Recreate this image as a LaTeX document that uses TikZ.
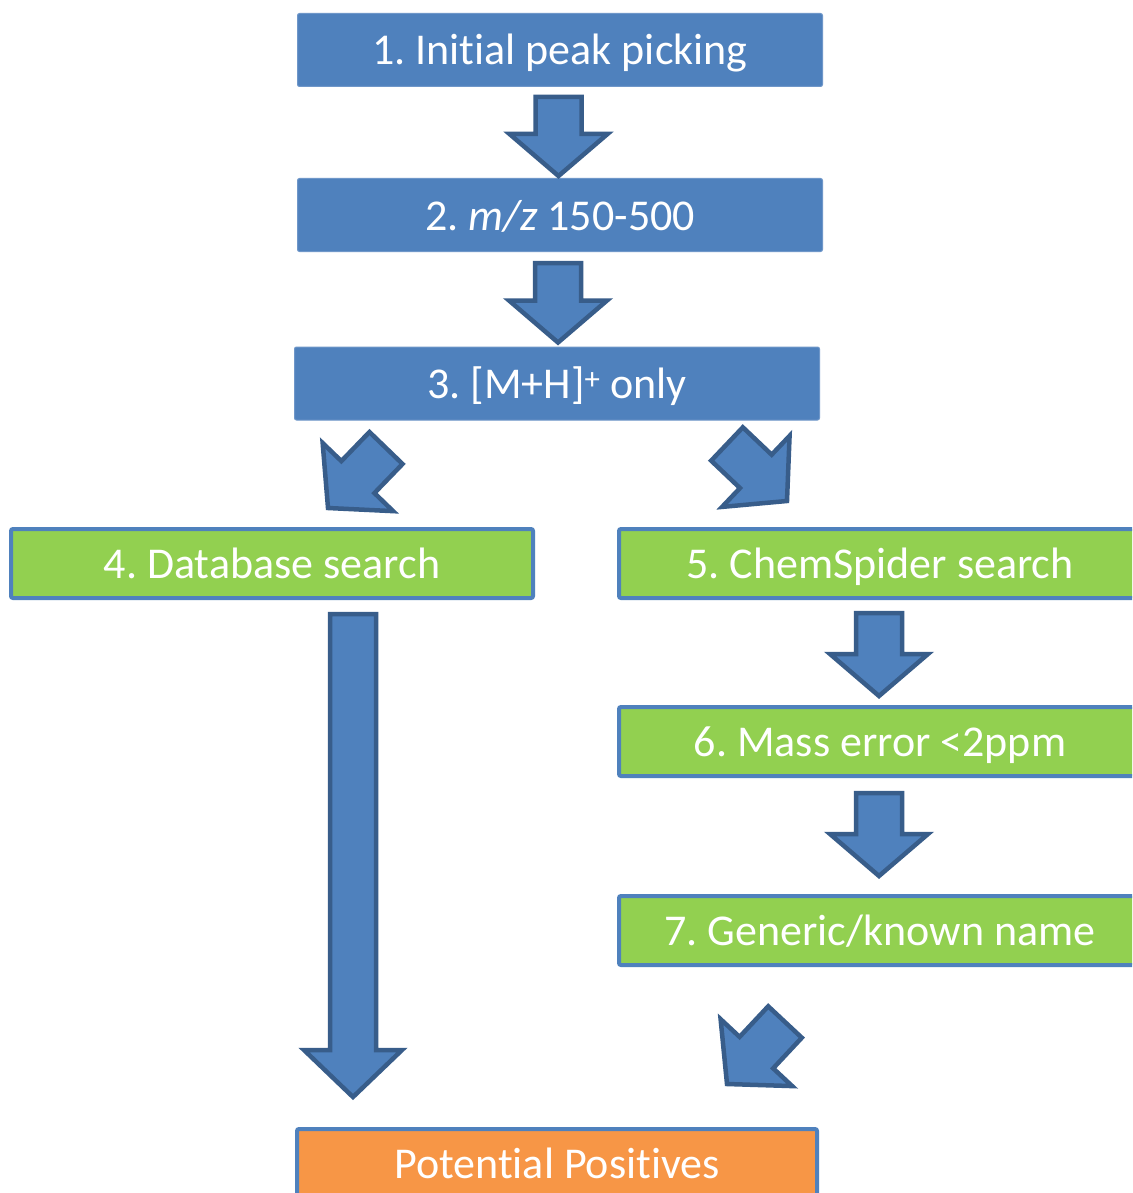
\documentclass[tikz,border=0pt]{standalone}
\usepackage{fontspec}
\setmainfont{Carlito}[Ligatures=NoCommon]
\usetikzlibrary{calc}
\definecolor{boxblue}{HTML}{4F81BD}
\definecolor{arrowedge}{HTML}{385D8A}
\definecolor{boxgreen}{HTML}{92D050}
\definecolor{boxorange}{HTML}{F79646}
\definecolor{edgelight}{HTML}{6F97C9}
% #1 start, #2 tip, #3 head length, #4 id
\newcommand{\blockarr}[4]{%
  \coordinate (#4-h) at ($(#2)!#3!(#1)$);
  \draw[blockarrow] ($(#1)!23pt!90:(#2)$) -- ($(#4-h)!23pt!90:(#2)$)
    -- ($(#4-h)!49pt!90:(#2)$) -- (#2) -- ($(#4-h)!49pt!-90:(#2)$)
    -- ($(#4-h)!23pt!-90:(#2)$) -- ($(#1)!23pt!-90:(#2)$) -- cycle;
}
\newcommand{\nolig}{\kern0pt}
\frenchspacing
\begin{document}
\begin{tikzpicture}[x=1pt,y=-1pt,
  every node/.style={font=\fontsize{44}{50}\selectfont, text=white, inner sep=0pt, text height=31pt, text depth=1pt},
  bluebox/.style={fill=boxblue, draw=edgelight, line width=1pt, rounded corners=2pt, minimum width=525pt, minimum height=73pt},
  greenbox/.style={fill=boxgreen, draw=boxblue, line width=4pt, rounded corners=2pt, minimum width=522pt, minimum height=69pt},
  orangebox/.style={fill=boxorange, draw=boxblue, line width=4pt, rounded corners=2pt, minimum width=520pt, minimum height=69pt},
  blockarrow/.style={fill=boxblue, draw=arrowedge, line width=4.5pt, line join=miter}]
\clip (0,0) rectangle (1132,1193);
\fill[white] (0,0) rectangle (1132,1193);

\node[bluebox] (n1) at (560,50) {1. Init\nolig ial peak picking};
\node[bluebox] (n2) at (560,215) {2. \textit{m/z} 150-500};
\node[bluebox] (n3) at (557,383.5) {3. [M+H]\textsuperscript{+} only};
\node[greenbox] (n4) at (272,563.5) {4. Database search};
\node[greenbox] (n5) at (880,563.5) {5. ChemSpider search};
\node[greenbox] (n6) at (880,741.5) {6. Mass error <2ppm};
\node[greenbox] (n7) at (880,930.5) {7. Generic/known name};
\node[orangebox] (n8) at (557,1163.5) {Potent\nolig ial Posit\nolig ives};

\coordinate (a12s) at ($(n1.south)+(-1.5,10)$);
\coordinate (a12e) at ($(n2.north)+(-1.5,-2)$);
\coordinate (a23s) at ($(n2.south)+(-2,11)$);
\coordinate (a23e) at ($(n3.north)+(1,-4)$);
\coordinate (a34s) at (386,448);
\coordinate (a34e) at (328,508);
\coordinate (a35s) at (727,444);
\coordinate (a35e) at (787,501);
\coordinate (a56s) at ($(n5.south)+(-1,13)$);
\coordinate (a56e) at ($(n6.north)+(-1,-9)$);
\coordinate (a67s) at ($(n6.south)+(-1,15)$);
\coordinate (a67e) at ($(n7.north)+(-1,-18)$);
\coordinate (a48s) at (353,614);
\coordinate (a48e) at (353,1097);
\coordinate (a78s) at (785,1022);
\coordinate (a78e) at (727,1084);

\blockarr{a12s}{a12e}{42pt}{b12}
\blockarr{a23s}{a23e}{42pt}{b23}
\blockarr{a34s}{a34e}{43pt}{b34}
\blockarr{a35s}{a35e}{43pt}{b35}
\blockarr{a56s}{a56e}{42pt}{b56}
\blockarr{a67s}{a67e}{42pt}{b67}
\blockarr{a48s}{a48e}{47pt}{b48}
\blockarr{a78s}{a78e}{43pt}{b78}
\end{tikzpicture}
\end{document}
